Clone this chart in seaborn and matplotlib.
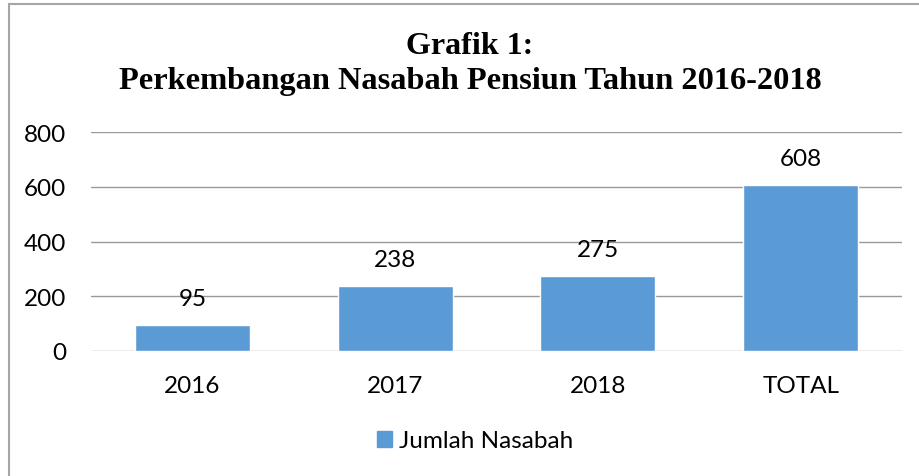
import pandas as pd
import matplotlib.pyplot as plt
import seaborn as sns
from matplotlib.patches import Rectangle, Patch

# Data
categories = ["2016", "2017", "2018", "TOTAL"]
values = [95, 238, 275, 608]
series_name = "Jumlah Nasabah"

df = pd.DataFrame({"Tahun": categories, "Jumlah": values})

sns.set_theme(style="white")
plt.rcParams['font.family'] = ['Lato', 'DejaVu Sans']
plt.rcParams['text.color'] = '#000000'

fig = plt.figure(figsize=(9.19, 4.77), dpi=100)
ax = fig.add_axes([91 / 919, 1 - 352 / 477, (902 - 91) / 919, (352 - 133) / 477])

bar_color = "#5B9BD5"
sns.barplot(data=df, x="Tahun", y="Jumlah", color=bar_color, width=0.567,
            saturation=1, ax=ax, zorder=3)

ax.set_ylim(0, 800)
ax.set_yticks([0, 200, 400, 600, 800])
ax.set_xlim(-0.5, len(categories) - 0.5)
ax.yaxis.grid(True, color="#999999", linewidth=1)
ax.set_axisbelow(True)
for s in ["top", "right", "left", "bottom"]:
    ax.spines[s].set_visible(False)
ax.set_xlabel("")
ax.set_ylabel("")
ax.tick_params(axis="both", length=0, labelsize=17.5, colors="#000000")
ax.tick_params(axis="y", pad=18)
ax.tick_params(axis="x", pad=17)

# value labels
for i, v in enumerate(values):
    ax.annotate(str(v), (i, v), xytext=(0, 19), textcoords="offset points",
                ha="center", va="center", fontsize=17.5, color="#000000")

# title (centred on the chart frame, not the image)
title_x = 470 / 919
fig.text(title_x, 1 - 46 / 477, "Grafik 1:", ha="center", va="center",
         fontsize=23, fontweight="bold", family="Liberation Serif", color="#000000")
fig.text(title_x, 1 - 81 / 477, "Perkembangan Nasabah Pensiun Tahun 2016-2018",
         ha="center", va="center", fontsize=23.3, fontweight="bold",
         family="Liberation Serif", color="#000000")

# legend
handle = Patch(facecolor=bar_color, edgecolor=bar_color)
fig.legend([handle], [series_name], loc="center", bbox_to_anchor=(475 / 919, 1 - 442 / 477),
           frameon=False, fontsize=17.5, handlelength=0.6, handleheight=0.6,
           handletextpad=0.3)

# chart frame (partially cropped)
fig.add_artist(Rectangle((9 / 919, -0.2), 1.2, 1 - 5 / 477 + 0.2,
                         transform=fig.transFigure, fill=False,
                         edgecolor="#a6a6a6", linewidth=1.5))

fig.savefig("out.png", dpi=100)
